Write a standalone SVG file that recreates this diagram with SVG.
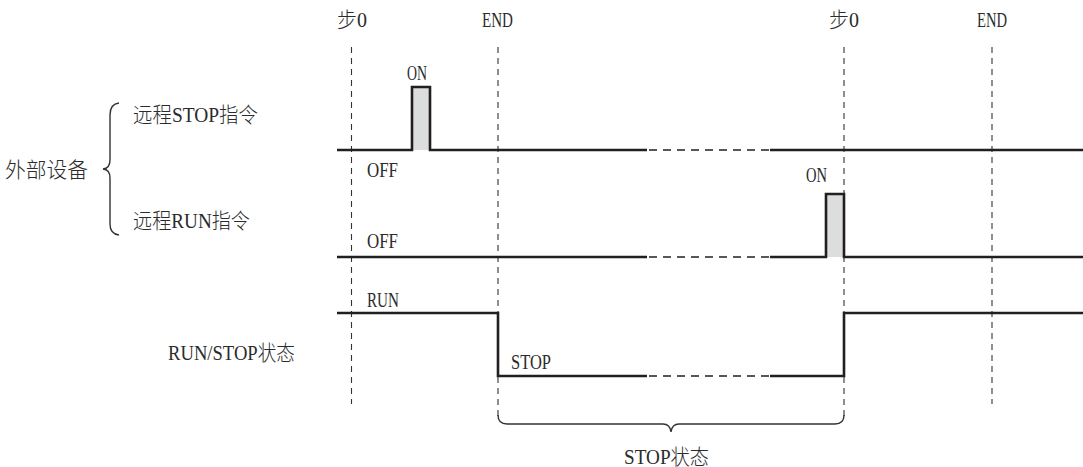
<svg xmlns="http://www.w3.org/2000/svg" width="1083" height="467" viewBox="0 0 1083 467">
<style>
text{font-family:"Liberation Serif","Noto Sans CJK SC",serif;font-size:21px;font-weight:300;fill:#2b2b2b;}
.sig{fill:none;stroke:#231f20;stroke-width:2.6;stroke-linejoin:miter;}
.brk{fill:none;stroke:#231f20;stroke-width:1.3;stroke-dasharray:8 6;}
.grid{fill:none;stroke:#333;stroke-width:1.1;stroke-dasharray:6 5;}
.pulse{fill:#dcdddd;stroke:none;}
.brace{fill:none;stroke:#333;stroke-width:1.4;}
</style>
<rect width="1083" height="467" fill="#fff"/>
<g id="labels-left">
<text x="5" y="177" textLength="83" lengthAdjust="spacingAndGlyphs">外部设备</text>
<text x="133" y="122" textLength="125" lengthAdjust="spacingAndGlyphs">远程STOP指令</text>
<text x="133" y="228" textLength="117" lengthAdjust="spacingAndGlyphs">远程RUN指令</text>
<text x="168" y="360" textLength="127" lengthAdjust="spacingAndGlyphs">RUN/STOP状态</text>
<path class="brace" d="M119,103 Q110,104 110,115 L110,160 Q110,168.5 103,169 Q110,169.5 110,178 L110,224 Q110,234 119,235"/>
</g>
<g id="timing-marks">
<text x="337" y="27" textLength="30" lengthAdjust="spacingAndGlyphs">步0</text>
<text x="482" y="27" textLength="31" lengthAdjust="spacingAndGlyphs">END</text>
<text x="829" y="27" textLength="30" lengthAdjust="spacingAndGlyphs">步0</text>
<text x="977" y="27" textLength="30" lengthAdjust="spacingAndGlyphs">END</text>
<line class="grid" x1="351.5" y1="47" x2="351.5" y2="404"/>
<line class="grid" x1="498" y1="47" x2="498" y2="416"/>
<line class="grid" x1="844" y1="47" x2="844" y2="416"/>
<line class="grid" x1="992" y1="47" x2="992" y2="404"/>
</g>
<g id="connectors">
<g id="stop-command">
<rect class="pulse" x="412" y="87" width="18" height="63"/>
<path class="sig" d="M337,150 H412 V87 H430 V150 H647"/>
<line class="brk" x1="649" y1="150" x2="770" y2="150"/>
<path class="sig" d="M770,150 H1083"/>
<text x="407" y="80" textLength="20" lengthAdjust="spacingAndGlyphs">ON</text>
<text x="367" y="177" textLength="31" lengthAdjust="spacingAndGlyphs">OFF</text>
</g>
<g id="run-command">
<rect class="pulse" x="826" y="194" width="18" height="63"/>
<path class="sig" d="M337,257 H647"/>
<line class="brk" x1="649" y1="257" x2="770" y2="257"/>
<path class="sig" d="M770,257 H826 V194 H844 V257 H1083"/>
<text x="806" y="182" textLength="21" lengthAdjust="spacingAndGlyphs">ON</text>
<text x="367" y="248" textLength="31" lengthAdjust="spacingAndGlyphs">OFF</text>
</g>
<g id="run-stop-state">
<path class="sig" d="M337,313 H498 V376 H647"/>
<line class="brk" x1="649" y1="376" x2="770" y2="376"/>
<path class="sig" d="M770,376 H844 V313 H1083"/>
<text x="367" y="307" textLength="32" lengthAdjust="spacingAndGlyphs">RUN</text>
<text x="511" y="369" textLength="40" lengthAdjust="spacingAndGlyphs">STOP</text>
</g>
</g>
<g id="stop-period">
<path class="brace" d="M498,415 Q498,424 507,424 H663 Q670,424 671,432 Q672,424 679,424 H835 Q844,424 844,415"/>
<text x="624" y="464" textLength="85" lengthAdjust="spacingAndGlyphs">STOP状态</text>
</g>
</svg>
